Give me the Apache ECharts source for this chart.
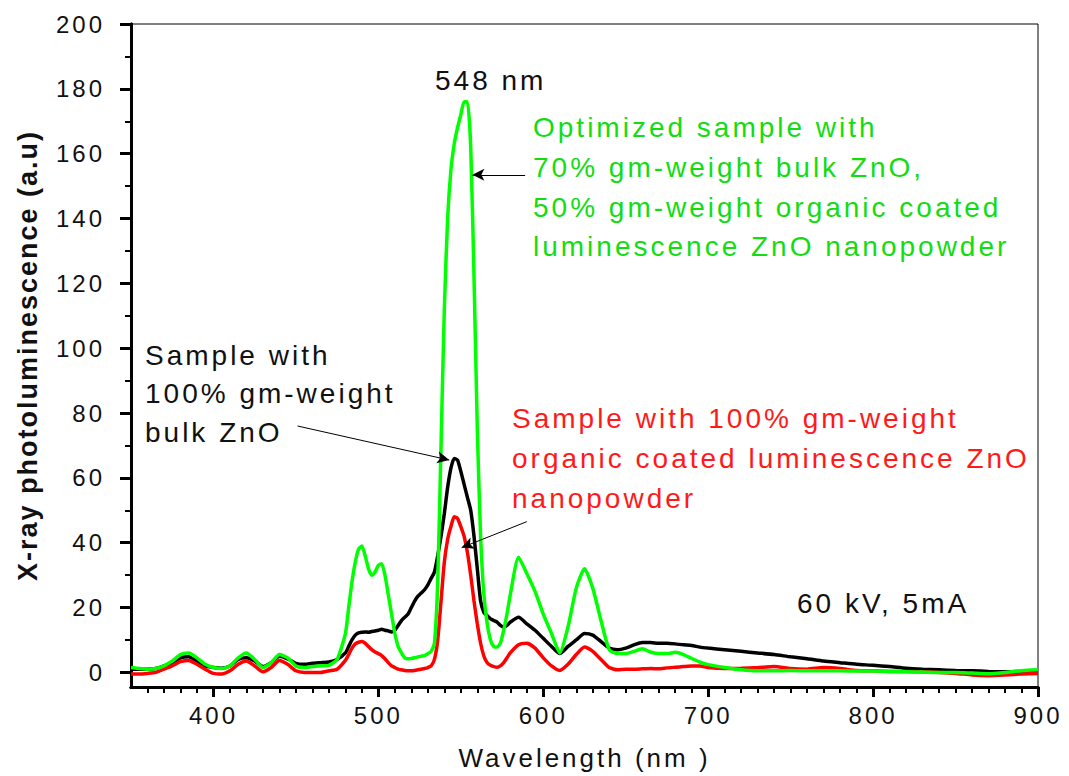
<!DOCTYPE html>
<html>
<head>
<meta charset="utf-8">
<script src="https://cdn.jsdelivr.net/npm/echarts@6/dist/echarts.min.js"></script>
<style>
  html, body { margin: 0; padding: 0; background: #fff; }
  #chart { width: 1069px; height: 776px; }
  /* the original figure uses a widely spaced font */
  #chart svg text { letter-spacing: 3px; }
  #chart svg text[style*="bold"] { letter-spacing: 2px; }
</style>
</head>
<body>
<div id="chart"></div>
<script>
// wavelength grid (nm)
var wl = [
  350, 355, 360, 365, 370, 375, 380, 385, 390, 395, 400, 405, 410, 415, 420, 425, 430, 435, 440, 445, 450, 455, 460, 465, 470, 475, 480,
  482, 484, 486, 488, 490, 492, 494, 496, 498, 500, 502, 504, 506, 508, 510, 512, 514, 516, 518, 520, 522, 524, 526, 528, 530,
  532, 534, 536, 538, 540, 542, 544, 546, 548, 550, 552, 554, 556, 558, 560, 562, 564, 566, 568, 570, 572, 574, 576, 578, 580,
  585, 590, 595, 600, 605, 610, 615, 620, 625, 630, 635, 640, 645, 650, 655, 660, 665, 670, 675, 680, 685, 690, 695, 700,
  710, 720, 730, 740, 750, 760, 770, 780, 790, 800, 810, 820, 830, 840, 850, 860, 870, 880, 890, 900
];
// optimized sample (green)
var optimized = [
  1.5, 1.2, 1.0, 1.2, 2.0, 3.5, 5.5, 6.0, 4.5, 2.5, 1.5, 1.2, 2.0, 4.5, 6.0, 4.0, 1.5, 3.0, 5.5, 4.5, 2.0, 1.5, 1.8, 2.0, 2.2, 4.0, 12,
  20, 28, 34, 38, 39, 36, 32, 30, 31, 33, 33.5, 30, 24, 18, 12, 8, 6, 4.5, 4.2, 4.3, 4.5, 4.8, 5, 5.2, 5.8,
  6.5, 9, 28, 70, 112, 140, 155, 163, 168, 172, 176, 176, 162, 122, 75, 42, 24, 15, 10, 8, 7.8, 9, 13, 18, 24,
  35.5, 30.5, 25, 18, 12, 6, 14, 26, 32, 26, 16, 7, 5.8, 5.8, 6.5, 7.3, 6.3, 5.8, 5.8, 6.2, 5.5, 4.3, 3.2, 2.4,
  1.5, 0.8, 0.5, 0.5, 0.6, 0.5, 0.5, 0.5, 0.4, 0.4, 0.3, 0.2, 0.1, 0, 0, -0.2, -0.4, 0, 0.5, 0.8
];
// 100% bulk ZnO (black)
var bulk = [
  1.0, 1.0, 1.0, 1.2, 2.0, 3.0, 4.5, 4.8, 3.5, 2.0, 1.5, 1.3, 2.0, 4.0, 4.5, 3.5, 1.8, 3.0, 5.0, 4.2, 2.8, 2.5, 2.8, 3.0, 3.2, 4.0, 6.0,
  8, 10, 11.5, 12.2, 12.4, 12.5, 12.4, 12.6, 12.8, 13, 13.3, 13, 12.8, 12.5, 13, 14.5, 16, 17, 18, 20, 22, 23.5, 24.5, 25.5, 27,
  29, 31, 36, 42, 49, 57, 63, 66, 65.5, 62, 58, 54, 50, 42, 32, 22, 18.5, 17.5, 16.5, 16, 15.5, 14.5, 14, 14.5, 15.5,
  17, 15, 13, 10.5, 8, 5.8, 8, 10, 12, 11.5, 9.5, 7.5, 7, 7.5, 8.5, 9.2, 9.2, 9, 9, 8.8, 8.5, 8.3, 7.8, 7.5,
  7, 6.5, 6, 5.5, 4.8, 4.2, 3.5, 3, 2.5, 2.2, 1.8, 1.3, 1, 0.8, 0.6, 0.5, 0.3, 0.2, 0.3, 0.5
];
// 100% organic coated nanopowder (red)
var nano = [
  -0.5, -0.5, -0.3, 0, 1.0, 2.0, 3.3, 3.7, 2.5, 1.0, -0.3, -0.5, 0.5, 2.5, 3.5, 2.0, 0.2, 1.5, 3.7, 2.5, 0.5, 0.0, 0.0, 0.0, 0.5, 1.0, 3.7,
  5.5, 7.5, 8.8, 9.3, 9.5, 9, 8, 7, 6.3, 5.8, 5.2, 4.2, 3, 2, 1.5, 1, 0.8, 0.6, 0.5, 0.5, 0.6, 0.8, 1, 1.2, 1.5,
  2, 4, 10, 22, 34, 41, 45, 48, 47.5, 45, 42, 37, 30, 22, 15, 9, 5, 3, 2.2, 1.8, 1.6, 2, 3, 4.5, 6,
  8.5, 9, 7.5, 4.5, 2, 0.6, 2.5, 5.5, 7.8, 6.5, 4, 1.5, 0.8, 1, 1, 1.1, 1.2, 1.1, 1.4, 1.6, 1.8, 2, 2, 1.5,
  1.2, 1.3, 1.5, 1.8, 1.2, 1.0, 1.5, 1.2, 0.6, 0.5, 0.3, 0.3, 0.2, 0, -0.3, -0.8, -1.0, -0.8, -0.5, -0.3
];
var xTicks = [400, 500, 600, 700, 800, 900];
var yTicks = [0, 20, 40, 60, 80, 100, 120, 140, 160, 180, 200];

var xMinor = [];
for (var i = 360; i < 900; i += 10) { if (i % 100 !== 0) xMinor.push(i); }
var yMinor = [];
for (var j = 10; j < 200; j += 20) yMinor.push(j);

function pairs(vals) {
  return wl.map(function (w, k) { return [w, vals[k]]; });
}

var FONT = 'Liberation Sans, Arial, sans-serif';
var GREEN = '#00ff00', RED = '#ff0000';

function axisLine() {
  return { show: true, onZero: false, lineStyle: { color: '#000', width: 3 } };
}

var chart = echarts.init(document.getElementById('chart'), null, { renderer: 'svg' });

function txt(x, y, s, color) {
  return {
    type: 'text', x: x, y: y, silent: true,
    style: { text: s, fill: color, font: '28px ' + FONT, verticalAlign: 'middle', align: 'left' }
  };
}

chart.setOption({
  animation: false,
  backgroundColor: '#fff',
  grid: { left: 131, right: 31, top: 24, bottom: 89, show: true, borderColor: '#000', borderWidth: 1 },
  xAxis: [{
    type: 'value', min: 350, max: 900,
    name: 'Wavelength (nm )', nameLocation: 'middle', nameGap: 58,
    nameTextStyle: { fontFamily: FONT, fontSize: 26, color: '#111' },
    axisLine: axisLine(),
    axisTick: { show: true, customValues: xTicks, length: 10, lineStyle: { color: '#000', width: 3 } },
    axisLabel: { customValues: xTicks, margin: 16, fontFamily: FONT, fontSize: 24, color: '#111' },
    splitLine: { show: false }
  }, {
    // minor ticks only
    type: 'value', min: 350, max: 900, position: 'bottom',
    axisLine: axisLine(),
    axisTick: { show: true, customValues: xMinor, length: 6, lineStyle: { color: '#000', width: 2 } },
    axisLabel: { show: false },
    splitLine: { show: false }
  }],
  yAxis: [{
    type: 'value', min: -4.5, max: 200,
    name: 'X-ray photoluminescence (a.u)', nameLocation: 'middle', nameGap: 90, nameRotate: 90,
    nameTextStyle: { fontFamily: FONT, fontSize: 27, fontWeight: 'bold', color: '#111' },
    axisLine: axisLine(),
    axisTick: { show: true, customValues: yTicks, length: 11, lineStyle: { color: '#000', width: 3 } },
    axisLabel: { customValues: yTicks, margin: 26, fontFamily: FONT, fontSize: 24, color: '#111' },
    splitLine: { show: false }
  }, {
    type: 'value', min: -4.5, max: 200, position: 'left',
    axisLine: axisLine(),
    axisTick: { show: true, customValues: yMinor, length: 6, lineStyle: { color: '#000', width: 2 } },
    axisLabel: { show: false },
    splitLine: { show: false }
  }],
  series: [{
    name: 'bulk', type: 'line', data: pairs(bulk), showSymbol: false, smooth: 0.2,
    lineStyle: { color: '#000', width: 3.5 }, itemStyle: { color: '#000' }
  }, {
    name: 'nano', type: 'line', data: pairs(nano), showSymbol: false, smooth: 0.2,
    lineStyle: { color: RED, width: 3.5 }, itemStyle: { color: RED }
  }, {
    name: 'optimized', type: 'line', data: pairs(optimized), showSymbol: false, smooth: 0.2,
    lineStyle: { color: GREEN, width: 3.5 }, itemStyle: { color: GREEN },
    markLine: {
      silent: true, symbol: ['none', 'arrow'], symbolSize: [9, 12],
      label: { show: false },
      lineStyle: { color: '#000', width: 1, type: 'solid' },
      data: [
        [{ coord: [589, 153.5] }, { coord: [557, 153.5] }],
        [{ coord: [451, 76] }, { coord: [543, 65.5] }],
        [{ coord: [590, 46.5] }, { coord: [550.5, 38.5] }]
      ]
    }
  }],
  graphic: [
    txt(435, 80, '548 nm', '#111'),
    txt(533, 127, 'Optimized sample with', '#11dd11'),
    txt(533, 167, '70% gm-weight bulk ZnO,', '#11dd11'),
    txt(533, 207, '50% gm-weight organic coated', '#11dd11'),
    txt(533, 246, 'luminescence ZnO nanopowder', '#11dd11'),
    txt(145, 355, 'Sample with', '#111'),
    txt(145, 393, '100% gm-weight', '#111'),
    txt(145, 432, 'bulk ZnO', '#111'),
    txt(512, 418, 'Sample with 100% gm-weight', '#ff1a1a'),
    txt(512, 458, 'organic coated luminescence ZnO', '#ff1a1a'),
    txt(512, 498, 'nanopowder', '#ff1a1a'),
    txt(797, 603, '60 kV, 5mA', '#111')
  ]
});
</script>
</body>
</html>
